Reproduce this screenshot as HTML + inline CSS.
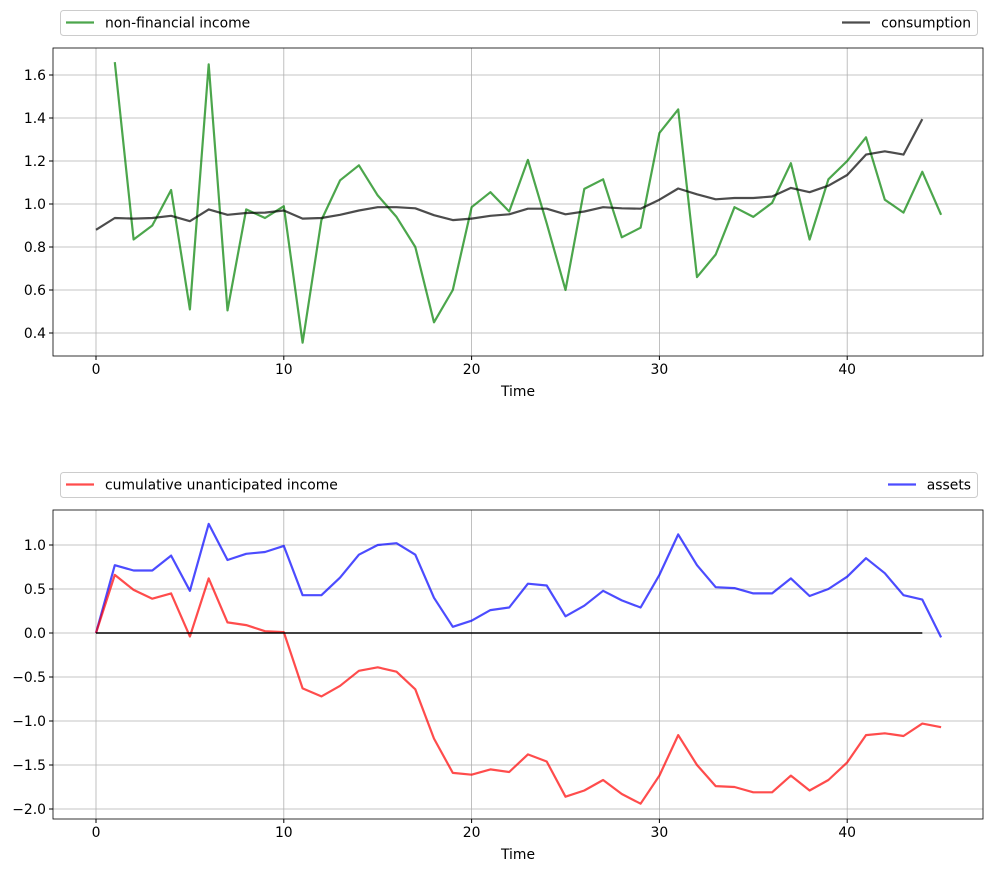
<!DOCTYPE html>
<html><head><meta charset="utf-8"><style>
body{margin:0;background:#fff}
svg{display:block;font-family:"DejaVu Sans","Liberation Sans",sans-serif}
</style></head><body>
<svg id="s" width="993" height="871" xmlns="http://www.w3.org/2000/svg"></svg>
<script>
const s=document.getElementById('s');let h='';const F=13.9;
const X=t=>96+t*18.78;
function axes(top,bot,yt,yf,fmt){
  h+=`<rect x="53" y="${top}" width="930" height="${bot-top}" fill="#fff"/>`;
  for(let t=0;t<=40;t+=10){const x=X(t);h+=`<line x1="${x}" y1="${top}" x2="${x}" y2="${bot}" stroke="#b0b0b0" stroke-width="0.8"/><line x1="${x}" y1="${bot}" x2="${x}" y2="${bot+4}" stroke="#000"/><text x="${x}" y="${bot+18}" font-size="${F}" text-anchor="middle">${t}</text>`;}
  yt.forEach(v=>{const y=yf(v);h+=`<line x1="53" y1="${y}" x2="983" y2="${y}" stroke="#b0b0b0" stroke-width="0.8"/><line x1="49" y1="${y}" x2="53" y2="${y}" stroke="#000"/><text x="46" y="${y+5}" font-size="${F}" text-anchor="end">${fmt(v)}</text>`;});
  h+=`<text x="518" y="${bot+40}" font-size="${F}" text-anchor="middle">Time</text>`;
}
function line(d,t0,yf,c){h+=`<polyline fill="none" stroke="${c}" stroke-opacity="0.7" stroke-width="2.2" stroke-linejoin="round" points="${d.map((v,i)=>X(i+t0).toFixed(1)+','+yf(v).toFixed(1)).join(' ')}"/>`;}
function legend(y,l1,c1,l2,c2,lx){
  h+=`<rect x="60.5" y="${y}.5" width="917" height="25" rx="3" fill="#fff" stroke="#ccc"/>`;
  h+=`<line x1="66" y1="${y+12.5}" x2="94" y2="${y+12.5}" stroke="${c1}" stroke-opacity="0.7" stroke-width="2.2"/><text x="105" y="${y+17.5}" font-size="${F}">${l1}</text>`;
  h+=`<line x1="${lx}" y1="${y+12.5}" x2="${lx+28}" y2="${y+12.5}" stroke="${c2}" stroke-opacity="0.7" stroke-width="2.2"/><text x="971" y="${y+17.5}" font-size="${F}" text-anchor="end">${l2}</text>`;
}
const fm=v=>v<0?'\u2212'+(-v).toFixed(1):v.toFixed(1);
const y1=v=>333-(v-0.4)*215;
axes(48,356,[0.4,0.6,0.8,1.0,1.2,1.4,1.6],y1,fm);
line([1.66,0.835,0.90,1.065,0.51,1.65,0.505,0.975,0.935,0.99,0.355,0.925,1.11,1.18,1.04,0.94,0.80,0.45,0.60,0.985,1.055,0.965,1.205,0.91,0.60,1.07,1.115,0.845,0.89,1.33,1.44,0.66,0.765,0.985,0.94,1.005,1.19,0.835,1.115,1.20,1.31,1.02,0.96,1.15,0.95],1,y1,'#008000');
line([0.88,0.935,0.932,0.935,0.945,0.92,0.975,0.95,0.958,0.96,0.97,0.932,0.935,0.95,0.97,0.985,0.985,0.98,0.948,0.925,0.932,0.945,0.952,0.978,0.978,0.952,0.965,0.985,0.98,0.978,1.02,1.072,1.045,1.022,1.028,1.028,1.035,1.075,1.055,1.085,1.135,1.23,1.245,1.23,1.395],0,y1,'#000');
h+=`<rect x="53" y="48" width="930" height="308" fill="none" stroke="#000" stroke-width="0.8"/>`;
legend(10,'non-financial income','#008000','consumption','#000',842);
const y2=v=>633-v*88;
axes(510,819,[-2,-1.5,-1,-0.5,0,0.5,1],y2,fm);
line([0,0.77,0.71,0.71,0.88,0.48,1.24,0.83,0.90,0.92,0.99,0.43,0.43,0.63,0.89,1.00,1.02,0.89,0.40,0.07,0.14,0.26,0.29,0.56,0.54,0.19,0.31,0.48,0.37,0.29,0.66,1.12,0.77,0.52,0.51,0.45,0.45,0.62,0.42,0.50,0.64,0.85,0.68,0.43,0.38,-0.05],0,y2,'#0000ff');
line([0,0.66,0.49,0.39,0.45,-0.04,0.62,0.12,0.09,0.02,0.01,-0.63,-0.72,-0.60,-0.43,-0.39,-0.44,-0.64,-1.20,-1.59,-1.61,-1.55,-1.58,-1.38,-1.46,-1.86,-1.79,-1.67,-1.83,-1.94,-1.62,-1.16,-1.50,-1.74,-1.75,-1.81,-1.81,-1.62,-1.79,-1.67,-1.47,-1.16,-1.14,-1.17,-1.03,-1.07],0,y2,'#ff0000');
h+=`<line x1="${X(0)}" y1="633" x2="${X(44)}" y2="633" stroke="#000" stroke-width="1.6"/>`;
h+=`<rect x="53" y="510" width="930" height="309" fill="none" stroke="#000" stroke-width="0.8"/>`;
legend(472,'cumulative unanticipated income','#ff0000','assets','#0000ff',888);
s.innerHTML=h;
</script>
</body></html>
